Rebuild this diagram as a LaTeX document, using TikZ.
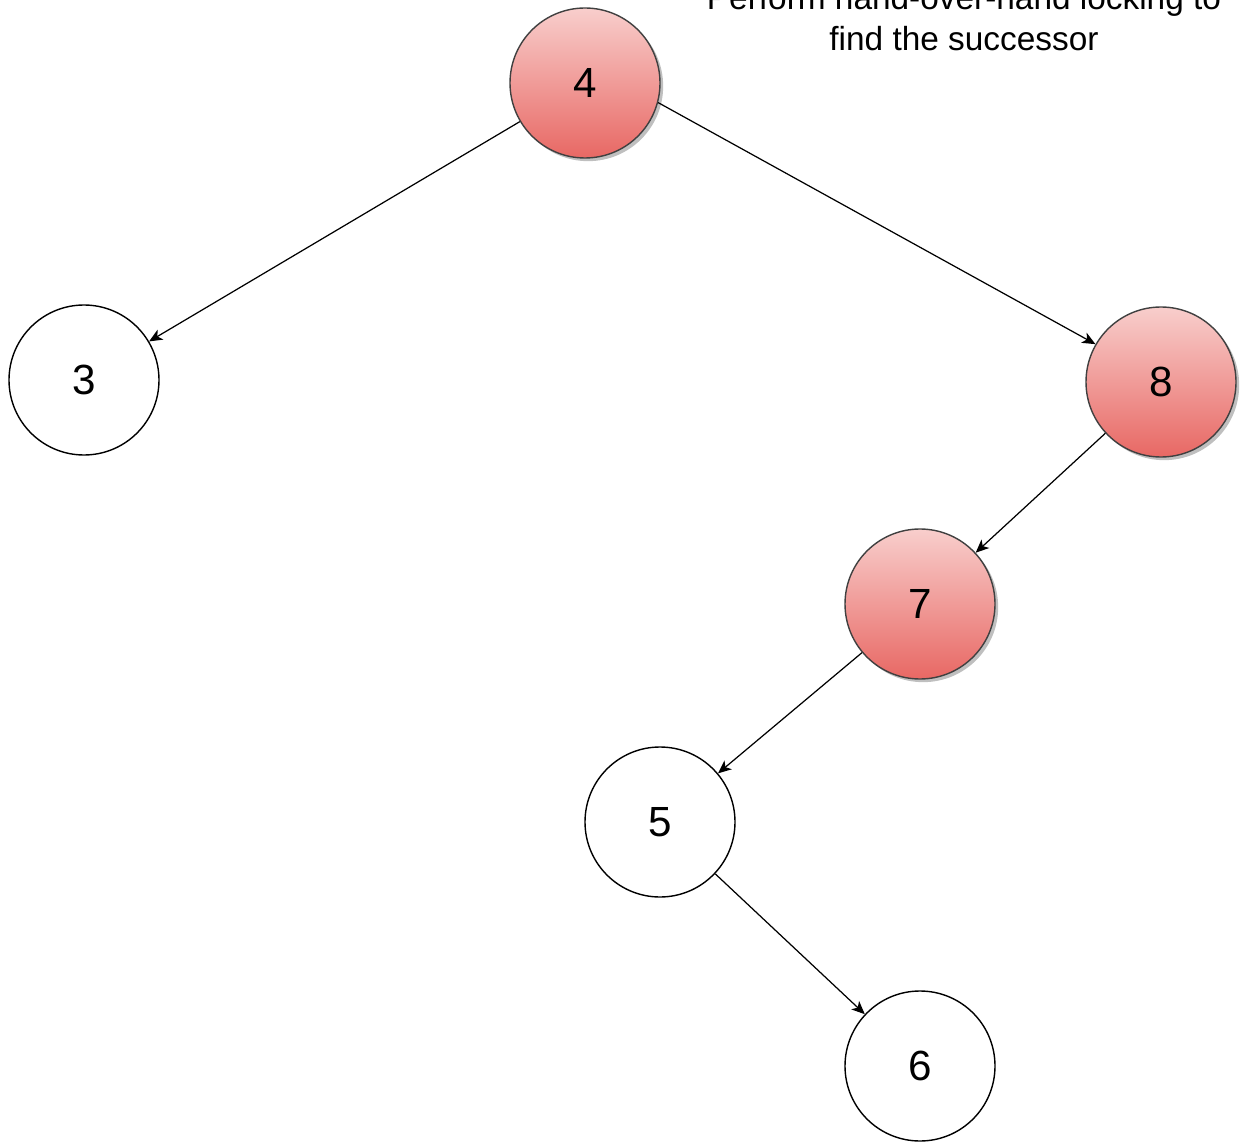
\documentclass[tikz,border=0pt]{standalone}
\usepackage{fontspec}
\setmainfont{Liberation Sans}
\usepackage{tikz}
\usetikzlibrary{arrows.meta, shadows, positioning}
\definecolor{lockTop}{RGB}{248,206,204}
\definecolor{lockBottom}{RGB}{232,104,100}
\tikzstyle{key} = [circle, draw=black, line width=0.8pt, minimum size=3cm, inner sep=0,
                   font=\fontsize{24}{29}\selectfont]
\tikzstyle{locked} = [key, draw=black!75, top color=lockTop, bottom color=lockBottom,
                      drop shadow={shadow xshift=1.8pt, shadow yshift=-1.8pt, fill=black!25, opacity=1}]
\tikzstyle{link} = [-{Stealth[length=7.5pt, width=6.5pt, inset=2pt]}, line width=0.7pt]

\begin{document}
\begin{tikzpicture}
				\useasboundingbox (0, 0) rectangle (24.82, -22.84);

				% the root
				\node (N4) [locked] at (11.7, -1.66) {4};

				% left subtree
				\node (N3) [key] at (1.68, -7.6) {3};
				\draw [link] (N4) -- (N3);

				% right subtree
				\node (N8) [locked] at (23.22, -7.64) {8};
				\draw [link] (N4.-15) -- (N8.150);

				\node (N7) [locked] at (18.4, -12.08) {7};
				\draw [link] (N8) -- (N7);

				\node (N5) [key] at (13.2, -16.44) {5};
				\draw [link] (N7) -- (N5);

				\node (N6) [key] at (18.4, -21.32) {6};
				\draw [link] (N5) -- (N6);

				% note
				\node (Note) [align=center, inner sep=0, font=\fontsize{19}{23.5}\selectfont]
					at (19.28, -0.36) {Perform hand-over-hand locking to\\find the successor};
			\end{tikzpicture}
\end{document}
